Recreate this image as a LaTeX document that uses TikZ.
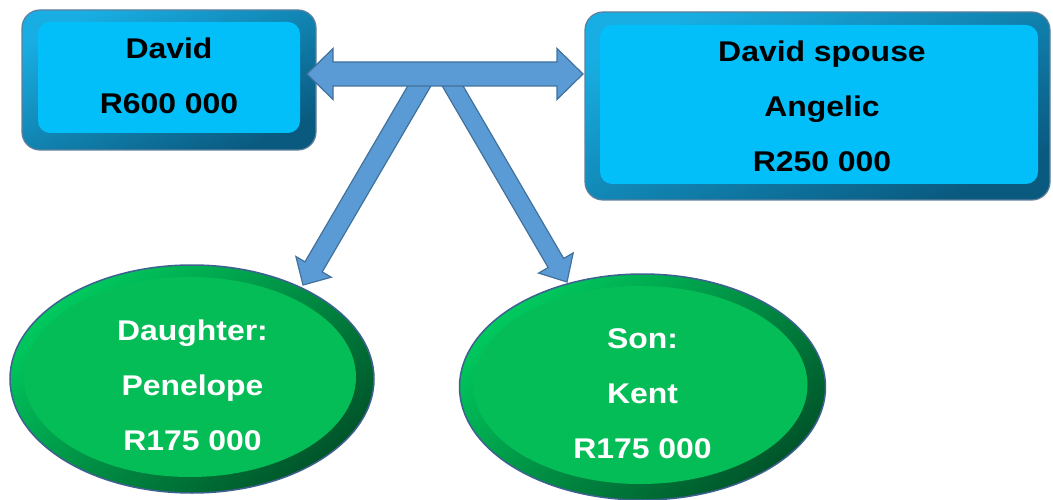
\documentclass[tikz,border=0pt]{standalone}
\usepackage{fontspec}
\setmainfont{Liberation Sans}[FakeStretch=1.12]
\usetikzlibrary{calc,shapes.geometric}
\definecolor{boxTop}{HTML}{18AEE3}
\definecolor{boxBot}{HTML}{0A5A80}
\definecolor{boxFace}{HTML}{02BEF9}
\definecolor{boxLine}{HTML}{5F7F9C}
\definecolor{ringLight}{HTML}{00C95E}
\definecolor{ringDark}{HTML}{00552A}
\definecolor{ellFace}{HTML}{05BD56}
\definecolor{ellLine}{HTML}{3E6190}
\definecolor{arrFill}{HTML}{5B9BD5}
\definecolor{arrLine}{HTML}{41719C}
\newcommand{\myblockarrow}[5]{%
  \path ($(#2)!#5!(#1)$) coordinate (ba-h);
  \filldraw[arrowshape] ($(#1)!#3!90:(#2)$) -- ($(ba-h)!#3!-90:(#1)$) -- ($(ba-h)!#4!-90:(#1)$) -- (#2)
    -- ($(ba-h)!#4!90:(#1)$) -- ($(ba-h)!#3!90:(#1)$) -- ($(#1)!#3!-90:(#2)$) -- cycle;
}
\begin{document}
\begin{tikzpicture}[x=1pt,y=-1pt,
  bluebox/.style={rectangle, rounded corners=18pt, draw=boxLine, line width=1.2pt,
    top color=boxTop, bottom color=boxBot, shading angle=25, inner sep=0pt},
  greenell/.style={ellipse, draw=ellLine, line width=1.5pt,
    top color=ringLight, bottom color=ringDark, shading angle=40, inner sep=0pt},
  boxtext/.style={align=center, inner sep=0pt, text=black,
    font=\fontsize{28.5}{55}\selectfont\bfseries},
  elltext/.style={align=center, inner sep=0pt, text=white,
    font=\fontsize{28.5}{55}\selectfont\bfseries},
  arrowshape/.style={fill=arrFill, draw=arrLine, line width=1.2pt, line join=miter}
]
\useasboundingbox (0,0) rectangle (1053,500);

% boxes
\node[bluebox, minimum width=294pt, minimum height=140pt,
  path picture={\fill[boxFace, rounded corners=12pt]
    ([xshift=16pt,yshift=-12pt]path picture bounding box.north west) rectangle
    ([xshift=-16pt,yshift=17pt]path picture bounding box.south east);}]
  (david) at (169,80) {};
\node[bluebox, minimum width=465pt, minimum height=188pt,
  path picture={\fill[boxFace, rounded corners=12pt]
    ([xshift=15pt,yshift=-13pt]path picture bounding box.north west) rectangle
    ([xshift=-12pt,yshift=16pt]path picture bounding box.south east);}]
  (spouse) at (817.5,106) {};

% ellipses
\node[greenell, minimum width=364pt, minimum height=228pt,
  path picture={\fill[ellFace] ([xshift=-2pt,yshift=2pt]path picture bounding box.center)
    ellipse [x radius=166pt, y radius=100pt];}]
  (daughter) at (192,379) {};
\node[greenell, minimum width=366pt, minimum height=226pt,
  path picture={\fill[ellFace] ([xshift=-2pt,yshift=2pt]path picture bounding box.center)
    ellipse [x radius=167pt, y radius=99pt];}]
  (son) at (642.5,387) {};

% texts
\node[boxtext] (davidtext) at (169,75.5) {David\\R600 000};
\node[boxtext] (spousetext) at (822,106.5) {David spouse\\Angelic\\R250 000};
\node[elltext] (daughtertext) at (192.5,385.5) {Daughter:\\Penelope\\R175 000};
\node[elltext] (sontext) at (642.5,394) {Son:\\Kent\\R175 000};

% arrows
\coordinate (tailL) at (424,78);
\coordinate (tipL) at (303,285);
\coordinate (tailR) at (448,78);
\coordinate (tipR) at (567,282);
\myblockarrow{tailL}{tipL}{10pt}{20.5pt}{21pt}
\myblockarrow{tailR}{tipR}{9pt}{20pt}{22pt}

\coordinate (hL) at (307,74);
\coordinate (hR) at (583,74);
\path ($(hL)!26pt!(hR)$) coordinate (hLb) ($(hR)!26pt!(hL)$) coordinate (hRb);
\filldraw[arrowshape] (hL) -- ($(hLb)!25.5pt!90:(hR)$) -- ($(hLb)!12pt!90:(hR)$)
  -- ($(hRb)!12pt!-90:(hL)$) -- ($(hRb)!25.5pt!-90:(hL)$) -- (hR)
  -- ($(hRb)!25.5pt!90:(hL)$) -- ($(hRb)!12pt!90:(hL)$)
  -- ($(hLb)!12pt!-90:(hR)$) -- ($(hLb)!25.5pt!-90:(hR)$) -- cycle;
\end{tikzpicture}
\end{document}
